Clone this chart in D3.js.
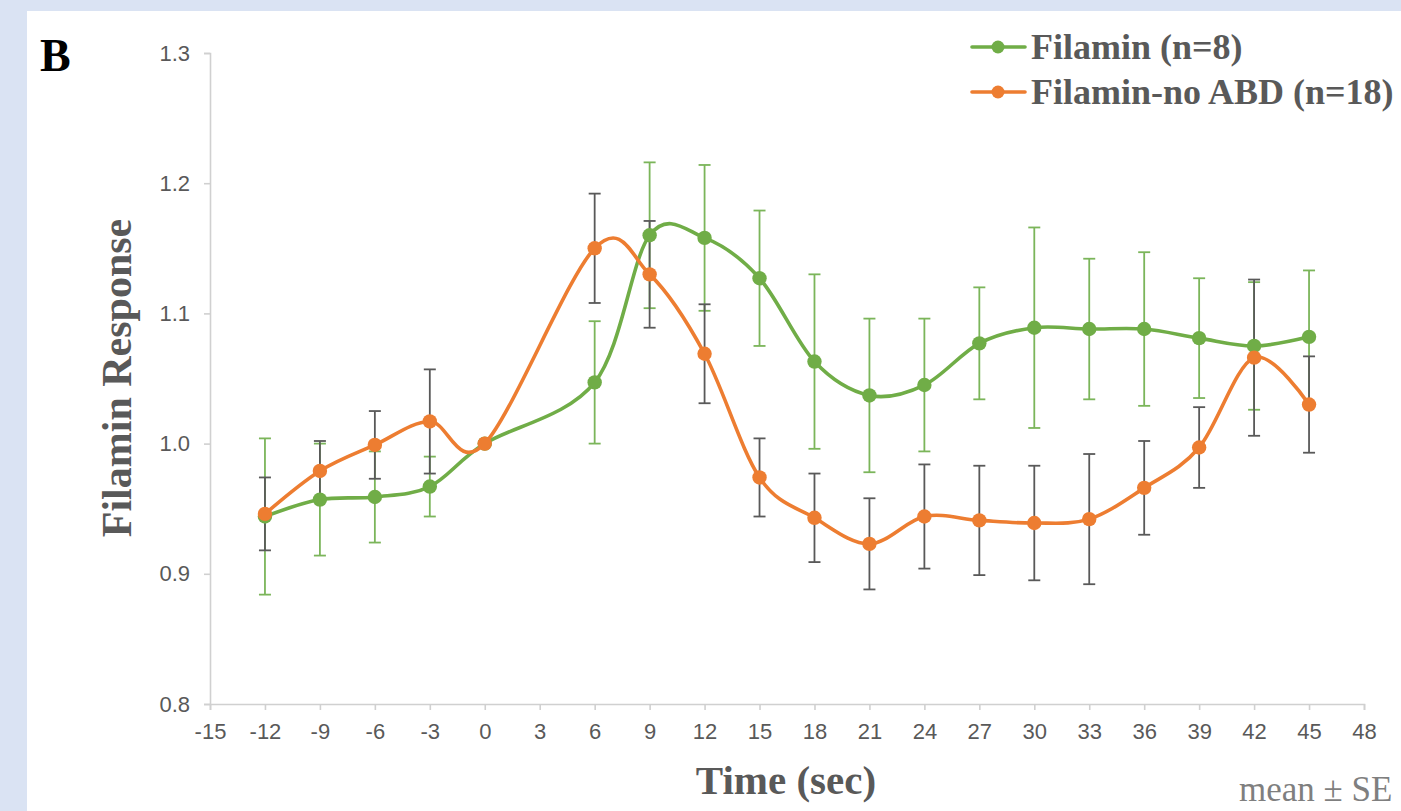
<!DOCTYPE html>
<html>
<head>
<meta charset="utf-8">
<script src="https://cdn.jsdelivr.net/npm/d3@7"></script>
<style>
  html, body { margin: 0; padding: 0; background: #dae3f3; overflow: hidden; }
  svg { display: block; }
</style>
</head>
<body>
<svg id="chart" width="1401" height="811"></svg>
<script>
// ---- data ----
const times = [-12, -9, -6, -3, 0, 6, 9, 12, 15, 18, 21, 24, 27, 30, 33, 36, 39, 42, 45];
const filaminMean = [0.944, 0.957, 0.959, 0.967, 1.000, 1.047, 1.160, 1.158, 1.127, 1.063, 1.037, 1.045, 1.077, 1.089, 1.088, 1.088, 1.081, 1.075, 1.082];
const filaminSE   = [0.060, 0.043, 0.035, 0.023, 0.000, 0.047, 0.056, 0.056, 0.052, 0.067, 0.059, 0.051, 0.043, 0.077, 0.054, 0.059, 0.046, 0.049, 0.051];
const noAbdMean   = [0.946, 0.979, 0.999, 1.017, 1.000, 1.150, 1.130, 1.069, 0.974, 0.943, 0.923, 0.944, 0.941, 0.939, 0.942, 0.966, 0.997, 1.066, 1.030];
const noAbdSE     = [0.028, 0.023, 0.026, 0.040, 0.000, 0.042, 0.041, 0.038, 0.030, 0.034, 0.035, 0.040, 0.042, 0.044, 0.050, 0.036, 0.031, 0.060, 0.037];
const xTicks = d3.range(-15, 49, 3);
const yTicks = [0.8, 0.9, 1.0, 1.1, 1.2, 1.3];
const seriesNames = ["Filamin (n=8)", "Filamin-no ABD (n=18)"];

// ---- layout ----
const svg = d3.select("#chart");
svg.append("rect").attr("x", 27).attr("y", 11).attr("width", 1401 - 27).attr("height", 811 - 11).attr("fill", "#ffffff");

const x = d3.scaleLinear().domain([-15, 48]).range([210, 1364]);
const y = d3.scaleLinear().domain([0.8, 1.3]).range([704, 53]);

const axisColor = "#d0d0d0";
const textColor = "#595959";

// y axis
const yAxis = svg.append("g").attr("transform", "translate(210,0)")
  .call(d3.axisLeft(y).tickValues(yTicks).tickFormat(d3.format(".1f")).tickSize(6).tickPadding(14));
// x axis (ASCII hyphen for negatives, as in the original)
const xAxis = svg.append("g").attr("transform", "translate(0,704)")
  .call(d3.axisBottom(x).tickValues(xTicks).tickFormat(d => String(d)).tickSize(6).tickPadding(13));
[yAxis, xAxis].forEach(g => {
  g.select(".domain").attr("stroke", axisColor).attr("stroke-width", 1.6);
  g.selectAll(".tick line").attr("stroke", axisColor).attr("stroke-width", 1.6);
  g.selectAll(".tick text").attr("fill", textColor)
    .style("font-family", "'Liberation Sans', Arial, sans-serif").style("font-size", "22px");
});
xAxis.selectAll(".tick text").attr("dy", "0.71em");

// titles
svg.append("text").attr("x", 786).attr("y", 794).attr("text-anchor", "middle")
  .attr("fill", textColor).style("font-family", "'Liberation Serif', 'Times New Roman', serif")
  .style("font-weight", "bold").style("font-size", "41px").text("Time (sec)");
svg.append("text").attr("transform", "translate(131,378) rotate(-90)").attr("text-anchor", "middle")
  .attr("fill", textColor).style("font-family", "'Liberation Serif', 'Times New Roman', serif")
  .style("font-weight", "bold").style("font-size", "42px").text("Filamin Response");
svg.append("text").attr("x", 40).attr("y", 71).attr("fill", "#000")
  .style("font-family", "'Liberation Serif', 'Times New Roman', serif")
  .style("font-weight", "bold").style("font-size", "46px").text("B");
svg.append("text").attr("x", 1239).attr("y", 801).attr("fill", "#7f7f7f")
  .style("font-family", "'Liberation Serif', 'Times New Roman', serif")
  .style("font-size", "35px").text("mean \u00b1 SE");

// ---- series ----
const series = [
  { name: seriesNames[0], mean: filaminMean, se: filaminSE, color: "#70ad47", errColor: "#7bb55a" },
  { name: seriesNames[1], mean: noAbdMean, se: noAbdSE, color: "#ed7d31", errColor: "#595959" }
];
const line = d3.line().x(d => x(d.t)).y(d => y(d.v)).curve(d3.curveCardinal.tension(0));

// error bars first
series.forEach(s => {
  const pts = times.map((t, i) => ({ t, v: s.mean[i], e: s.se[i] })).filter(d => d.e > 0);
  const g = svg.append("g").attr("stroke", s.errColor).attr("stroke-width", 1.8).attr("fill", "none");
  g.selectAll("line.v").data(pts).enter().append("line")
    .attr("x1", d => x(d.t)).attr("x2", d => x(d.t))
    .attr("y1", d => y(d.v + d.e)).attr("y2", d => y(d.v - d.e));
  g.selectAll("line.t").data(pts).enter().append("line")
    .attr("x1", d => x(d.t) - 6).attr("x2", d => x(d.t) + 6)
    .attr("y1", d => y(d.v + d.e)).attr("y2", d => y(d.v + d.e));
  g.selectAll("line.b").data(pts).enter().append("line")
    .attr("x1", d => x(d.t) - 6).attr("x2", d => x(d.t) + 6)
    .attr("y1", d => y(d.v - d.e)).attr("y2", d => y(d.v - d.e));
});

series.forEach(s => {
  const pts = times.map((t, i) => ({ t, v: s.mean[i] }));
  svg.append("path").datum(pts).attr("d", line).attr("fill", "none")
    .attr("stroke", s.color).attr("stroke-width", 3.6).attr("stroke-linecap", "round");
  svg.append("g").selectAll("circle").data(pts).enter().append("circle")
    .attr("cx", d => x(d.t)).attr("cy", d => y(d.v)).attr("r", 7.2).attr("fill", s.color);
});

// ---- legend ----
const legendY = [47, 92];
series.forEach((s, i) => {
  const g = svg.append("g");
  g.append("line").attr("x1", 972).attr("x2", 1025).attr("y1", legendY[i]).attr("y2", legendY[i])
    .attr("stroke", s.color).attr("stroke-width", 3.6).attr("stroke-linecap", "round");
  g.append("circle").attr("cx", 998).attr("cy", legendY[i]).attr("r", 6.5).attr("fill", s.color);
  g.append("text").attr("x", 1031).attr("y", legendY[i] + 12).attr("fill", textColor)
    .style("font-family", "'Liberation Serif', 'Times New Roman', serif")
    .style("font-weight", "bold").style("font-size", "36px").text(s.name);
});
</script>
</body>
</html>
